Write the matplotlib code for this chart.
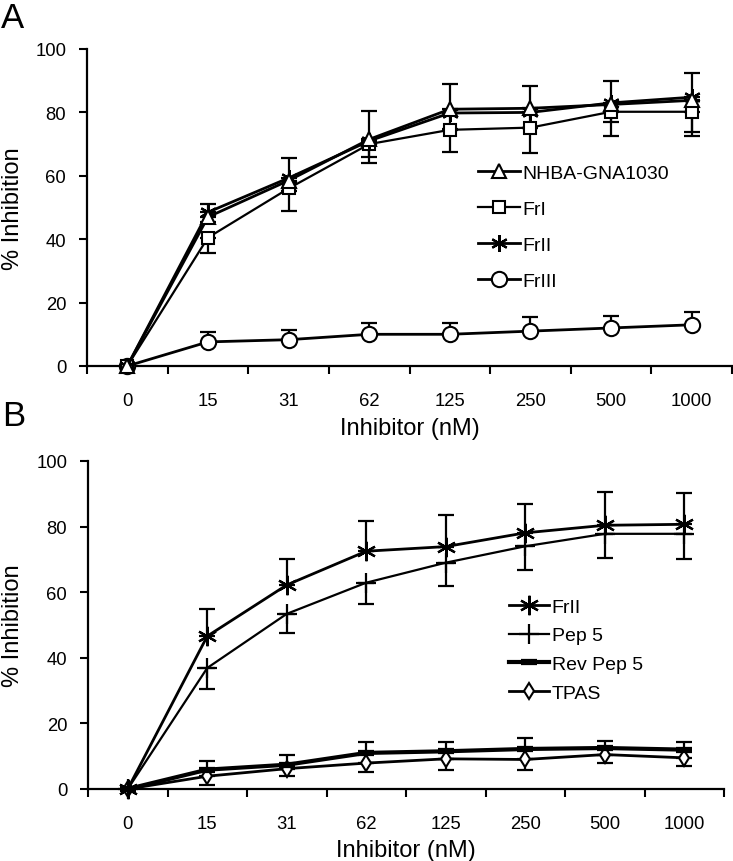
import matplotlib
matplotlib.use("Agg")
import matplotlib.pyplot as plt
from matplotlib.ticker import FixedLocator

plt.rcParams['font.family'] = ['Liberation Sans', 'DejaVu Sans']

# categories (inhibitor concentration, nM)
conc = ['0', '15', '31', '62', '125', '250', '500', '1000']

# panel A
nhba = [0, 47, 58.5, 71.5, 81, 81.3, 82.5, 83.8]
nhba_up = [0, 4, 7, 9, 8, 7, 7.5, 8.5]
fr1 = [0, 40.5, 56, 70, 74.5, 75.2, 80.2, 80.2]
fr1_dn = [0, 5, 7, 6, 7, 8, 7.5, 7.5]
fr2 = [0, 48.5, 59.3, 71, 79.8, 80, 83, 84.8]
fr2_dn = [0, 3, 4, 5, 5, 5, 6, 11]
fr3 = [0, 7.6, 8.3, 10, 10, 11, 12, 13]
fr3_up = [0, 3, 3.2, 3.7, 3.7, 4.4, 3.8, 4]

# panel B
fr2b = [0, 46.6, 62.2, 72.5, 73.9, 78.1, 80.4, 80.7]
fr2b_up = [0, 8.3, 7.8, 9.2, 9.6, 8.7, 10.2, 9.6]
pep5 = [0, 36.9, 53.4, 62.9, 69, 74, 77.8, 77.8]
pep5_dn = [0, 6.4, 5.8, 6.4, 7, 7.1, 7.3, 7.8]
rev = [0, 5.9, 7.4, 11, 11.5, 12.2, 12.5, 12]
rev_up = [0, 2.5, 3.1, 3.3, 2.8, 3.2, 2, 2.3]
tpas = [0, 3.9, 6.2, 7.9, 9.2, 9, 10.5, 9.5]
tpas_dn = [0, 2.8, 2.3, 2.8, 3.3, 3.3, 2.6, 2.6]

W, H = 733, 862
fig = plt.figure(figsize=(W / 100, H / 100), dpi=100)
axA = fig.add_axes([87 / W, 1 - 367 / H, 645 / W, 317 / H])
axB = fig.add_axes([88 / W, 1 - 790 / H, 636 / W, 328 / H])

x = list(range(len(conc)))
z = [0] * len(conc)


def series(ax, y, lo, hi, label, marker, ms, lw=2.0, mew=1.5, mfc='white'):
    ax.errorbar(x, y, yerr=[lo, hi], fmt='none', ecolor='black',
                elinewidth=1.6, capsize=6, capthick=1.6, clip_on=False)
    line, = ax.plot(x, y, color='black', lw=lw, marker=marker, ms=ms, mew=mew,
                    mfc=mfc, mec='black', label=label, clip_on=False, zorder=3)
    return line


l3 = series(axA, fr3, z, fr3_up, 'FrIII', 'o', 11)
l1 = series(axA, fr1, fr1_dn, z, 'FrI', 's', 9, lw=1.6)
l2 = series(axA, fr2, fr2_dn, z, 'FrII', (6, 2, 0), 12, mew=1.6)
l0 = series(axA, nhba, z, nhba_up, 'NHBA-GNA1030', '^', 10)

m3 = series(axB, tpas, tpas_dn, z, 'TPAS', 'd', 8)
m2 = series(axB, rev, z, rev_up, 'Rev Pep 5', '_', 11, lw=3.0, mew=4.5)
m1 = series(axB, pep5, pep5_dn, z, 'Pep 5', '+', 14, lw=1.6, mew=1.6)
m0 = series(axB, fr2b, z, fr2b_up, 'FrII', (6, 2, 0), 14, mew=1.6)

for ax in (axA, axB):
    ax.set_xlim(-0.5, 7.5)
    ax.set_ylim(0, 100)
    ax.set_yticks(range(0, 101, 20))
    ax.set_xticks(x)
    ax.set_xticklabels(conc)
    ax.xaxis.set_minor_locator(FixedLocator([i - 0.5 for i in range(9)]))
    ax.tick_params(axis='x', which='major', length=0, pad=19, labelsize=13.3)
    ax.tick_params(axis='x', which='minor', length=6, width=1.5, direction='out')
    ax.tick_params(axis='y', length=6, width=1.5, direction='out', pad=9,
                   labelsize=13.3)
    for s in ('top', 'right'):
        ax.spines[s].set_visible(False)
    for s in ('left', 'bottom'):
        ax.spines[s].set_linewidth(1.6)
    ax.set_ylabel('% Inhibition', fontsize=17, va='center')
    ax.set_xlabel('Inhibitor (nM)', fontsize=17, va='center')

axA.yaxis.set_label_coords(-0.115, 0.5)
axB.yaxis.set_label_coords(-0.118, 0.5)
axA.xaxis.set_label_coords(0.5, -0.196)
axB.xaxis.set_label_coords(0.5, -0.186)

axA.legend([l0, l1, l2, l3], ['NHBA-GNA1030', 'FrI', 'FrII', 'FrIII'],
           loc='upper left', frameon=False, fontsize=14,
           bbox_to_anchor=(478 / W, 1 - 165 / H), bbox_transform=fig.transFigure,
           borderpad=0, borderaxespad=0, handlelength=2.15, handletextpad=0.15,
           labelspacing=0.95)
axB.legend([m0, m1, m2, m3], ['FrII', 'Pep 5', 'Rev Pep 5', 'TPAS'],
           loc='upper left', frameon=False, fontsize=14,
           bbox_to_anchor=(509 / W, 1 - 599 / H), bbox_transform=fig.transFigure,
           borderpad=0, borderaxespad=0, handlelength=2.05, handletextpad=0.15,
           labelspacing=0.57)

fig.text(1 / W, 1 - 2 / H, 'A', fontsize=25, va='top', ha='left')
fig.text(2 / W, 1 - 400 / H, 'B', fontsize=25, va='top', ha='left')

fig.savefig('out.png', dpi=100)
